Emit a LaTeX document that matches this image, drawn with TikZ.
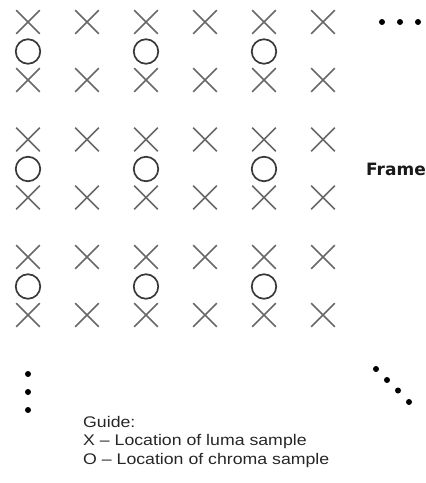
\documentclass[tikz,border=0pt]{standalone}
\usepackage{fontspec}
\setmainfont{Liberation Sans}
\newfontfamily\guidefont[FakeStretch=1.15,Ligatures=TeX]{Liberation Sans}
\newfontfamily\framefont{DejaVu Sans}
\usetikzlibrary{shapes.misc}
\definecolor{lumagray}{HTML}{686868}
\definecolor{chromagray}{HTML}{383838}
\begin{document}
\begin{tikzpicture}[x=1pt,y=-1pt,
  luma/.style={cross out,draw=lumagray,line width=1.7pt,minimum size=22pt,inner sep=0pt},
  chroma/.style={circle,draw=chromagray,line width=1.7pt,minimum width=24.5pt,inner sep=0pt},
  blackdot/.style={circle,fill=black,minimum size=6pt,inner sep=0pt},
  guidetext/.style={anchor=base west,inner sep=0pt,font=\guidefont\fontsize{15.4}{18}\selectfont,text=black!85}]
\useasboundingbox (0,0) rectangle (426,483);
\foreach \b/\by in {1/22,2/139.5,3/257}{
  \foreach \c/\cx in {1/28,2/87,3/146,4/205,5/264,6/323}{
    \node[luma] (xa-\b-\c) at (\cx,\by) {};
    \node[luma] (xb-\b-\c) at (\cx,\by+58) {};
  }
  \foreach \c/\cx in {1/28,3/146,5/264}{
    \node[chroma] (o-\b-\c) at (\cx,\by+29.5) {};
  }
}
% horizontal ellipsis
\node[blackdot] (h1) at (382,22) {};
\node[blackdot] (h2) at (400,22) {};
\node[blackdot] (h3) at (418,22) {};
% vertical ellipsis
\node[blackdot] (v1) at (28,374) {};
\node[blackdot] (v2) at (28,392) {};
\node[blackdot] (v3) at (28,410) {};
% diagonal ellipsis
\node[blackdot] (d1) at (376,369) {};
\node[blackdot] (d2) at (387,380) {};
\node[blackdot] (d3) at (398,390.5) {};
\node[blackdot] (d4) at (409,402) {};
% frame label
\node[font=\framefont\bfseries\fontsize{17}{20}\selectfont,text=black!90,inner sep=0pt] (frame) at (396,169) {Frame};
% guide
\node[guidetext] (g1) at (83,427) {Guide:};
\node[guidetext] (g2) at (83,445.5) {X – Location of luma sample};
\node[guidetext] (g3) at (83,464) {O – Location of chroma sample};
\end{tikzpicture}
\end{document}
